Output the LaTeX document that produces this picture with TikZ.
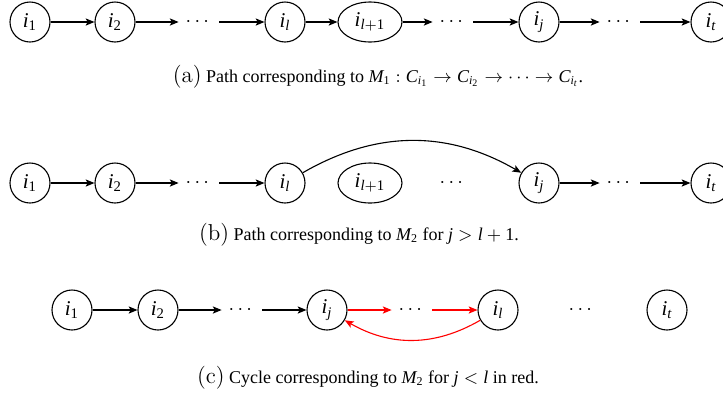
\documentclass[tikz,border=0pt]{standalone}
\usepackage{amsmath}
\usepackage{fontspec}
\setmainfont{Liberation Serif}
\newfontfamily\lmfont{Latin Modern Roman}
\usetikzlibrary{arrows.meta,shapes.geometric}
\newcommand\vv[1]{\mathit{#1}}
\newcommand\nn[1]{\text{\upshape #1}}
\begin{document}
\begin{tikzpicture}[x=0.5pt,y=-0.5pt,
  vtx/.style={circle,draw,line width=0.55pt,minimum size=20pt,inner sep=0pt,font=\fontsize{10.5}{12}\selectfont},
  ovl/.style={ellipse,draw,line width=0.55pt,minimum width=32pt,minimum height=20pt,inner sep=0pt,font=\fontsize{10.5}{12}\selectfont},
  dts/.style={minimum width=20pt,minimum height=10pt,inner sep=0pt,font=\fontsize{10}{12}\selectfont},
  arr/.style={-{Stealth[length=4.4pt,width=3.6pt,inset=1pt]},line width=0.55pt},
  rarr/.style={arr,red},
  captext/.style={anchor=base,font=\fontsize{9}{11}\selectfont,inner sep=0pt}]
\useasboundingbox (0,0) rectangle (723,397);
\clip (0,0) rectangle (723,397);
% row (a)
\node[vtx] (a1) at (30,22) {$\vv{i}_{\nn{1}}$};
\node[vtx] (a2) at (115,22) {$\vv{i}_{\nn{2}}$};
\node[dts] (ad1) at (199,22) {$\cdots$};
\node[vtx] (al) at (285,22) {$\vv{i}_{\vv{l}}$};
\node[ovl] (al1) at (370,22) {$\vv{i}_{\vv{l}+\nn{1}}$};
\node[dts] (ad2) at (453,22) {$\cdots$};
\node[vtx] (aj) at (539,22) {$\vv{i}_{\vv{j}}$};
\node[dts] (ad3) at (620,22) {$\cdots$};
\node[vtx] (at) at (711,22) {$\vv{i}_{\vv{t}}$};
\draw[arr] (a1) -- (a2);
\draw[arr] (a2) -- (ad1);
\draw[arr] (ad1) -- (al);
\draw[arr] (al) -- (al1);
\draw[arr] (al1) -- (ad2);
\draw[arr] (ad2) -- (aj);
\draw[arr] (aj) -- (ad3);
\draw[arr] (ad3) -- (at);
\node[captext] (capa) at (378,82) {{\lmfont\fontsize{11.5}{12}\selectfont (a)} Path corresponding to $\vv{M}_{\nn{1}} : \vv{C}_{\vv{i}_{\nn{1}}} \rightarrow \vv{C}_{\vv{i}_{\nn{2}}} \rightarrow \cdots \rightarrow \vv{C}_{\vv{i}_{\vv{t}}}$.};
% row (b)
\node[vtx] (b1) at (30,183) {$\vv{i}_{\nn{1}}$};
\node[vtx] (b2) at (115,183) {$\vv{i}_{\nn{2}}$};
\node[dts] (bd1) at (199,183) {$\cdots$};
\node[vtx] (bl) at (285,183) {$\vv{i}_{\vv{l}}$};
\node[ovl] (bl1) at (370,183) {$\vv{i}_{\vv{l}+\nn{1}}$};
\node[dts] (bd2) at (453,183) {$\cdots$};
\node[vtx] (bj) at (539,183) {$\vv{i}_{\vv{j}}$};
\node[dts] (bd3) at (620,183) {$\cdots$};
\node[vtx] (bt) at (711,183) {$\vv{i}_{\vv{t}}$};
\draw[arr] (b1) -- (b2);
\draw[arr] (b2) -- (bd1);
\draw[arr] (bd1) -- (bl);
\draw[arr] (bl) to[bend left=30] (bj);
\draw[arr] (bj) -- (bd3);
\draw[arr] (bd3) -- (bt);
\node[captext] (capb) at (359,240) {{\lmfont\fontsize{11.5}{12}\selectfont (b)} Path corresponding to $\vv{M}_{\nn{2}}$ for $\vv{j} > \vv{l}+\nn{1}$.};
% row (c)
\node[vtx] (c1) at (72,310) {$\vv{i}_{\nn{1}}$};
\node[vtx] (c2) at (158,310) {$\vv{i}_{\nn{2}}$};
\node[dts] (cd1) at (242,310) {$\cdots$};
\node[vtx] (cj) at (327,310) {$\vv{i}_{\vv{j}}$};
\node[dts] (cd2) at (412,310) {$\cdots$};
\node[vtx] (cl) at (498,310) {$\vv{i}_{\vv{l}}$};
\node[dts] (cd3) at (582,310) {$\cdots$};
\node[vtx] (ct) at (667,310) {$\vv{i}_{\vv{t}}$};
\draw[arr] (c1) -- (c2);
\draw[arr] (c2) -- (cd1);
\draw[arr] (cd1) -- (cj);
\draw[rarr] (cj) -- (cd2);
\draw[rarr] (cd2) -- (cl);
\draw[rarr] (cl) to[bend left=30] (cj);
\node[captext] (capc) at (368,383) {{\lmfont\fontsize{11.5}{12}\selectfont (c)} Cycle corresponding to $\vv{M}_{\nn{2}}$ for $\vv{j} < \vv{l}$ in red.};
\end{tikzpicture}
\end{document}
